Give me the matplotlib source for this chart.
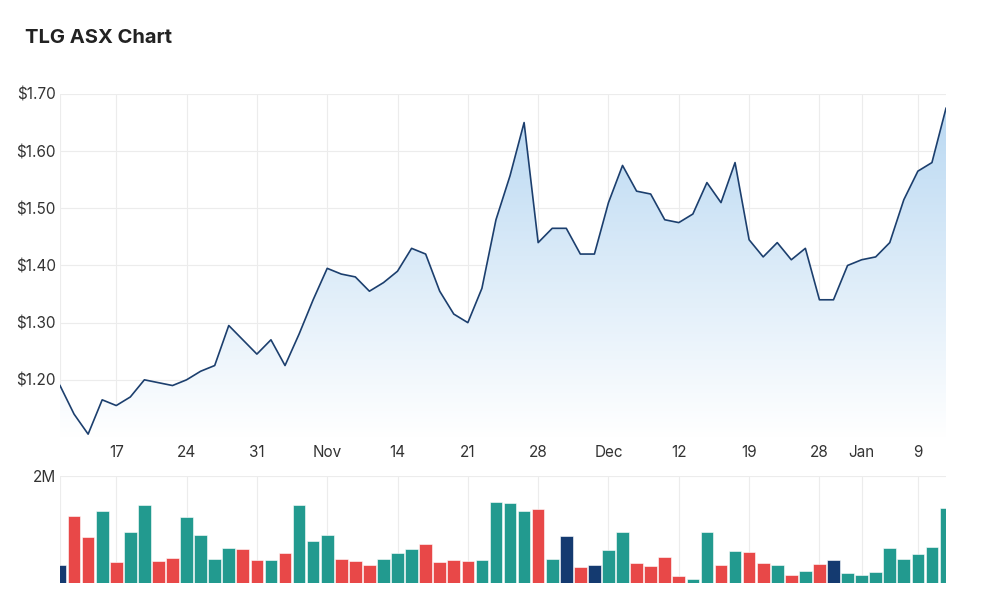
#!/usr/bin/env python3
"""
TLG ASX price chart with volume panel (trading-day ordinal x axis).

Output: out.png
"""

import matplotlib.pyplot as plt
import numpy as np
import pandas as pd
from matplotlib.ticker import FuncFormatter

plt.rcParams["font.family"] = ["Inter", "DejaVu Sans"]

TITLE = "TLG ASX Chart"
START, END = "2022-10-11", "2023-01-11"
HOLIDAYS = ["2022-12-26", "2022-12-27", "2023-01-02"]

# closing price ($), one per trading day
PRICE = [
    1.19, 1.14, 1.105, 1.165, 1.155, 1.17, 1.20, 1.195, 1.19, 1.20,
    1.215, 1.225, 1.295, 1.27, 1.245, 1.27, 1.225, 1.28, 1.34, 1.395,
    1.385, 1.38, 1.355, 1.37, 1.39, 1.43, 1.42, 1.355, 1.315, 1.30,
    1.36, 1.48, 1.557, 1.65, 1.44, 1.465, 1.465, 1.42, 1.42, 1.51,
    1.575, 1.53, 1.525, 1.48, 1.475, 1.49, 1.545, 1.51, 1.58, 1.445,
    1.415, 1.44, 1.41, 1.43, 1.34, 1.34, 1.40, 1.41, 1.415, 1.44,
    1.515, 1.565, 1.58, 1.675,
]
# daily volume (millions of shares)
VOLUME = [
    0.325, 1.25, 0.85, 1.35, 0.39, 0.95, 1.45, 0.41, 0.47, 1.23,
    0.89, 0.45, 0.65, 0.63, 0.43, 0.43, 0.55, 1.45, 0.79, 0.89,
    0.45, 0.41, 0.34, 0.45, 0.56, 0.625, 0.73, 0.39, 0.43, 0.41,
    0.43, 1.51, 1.49, 1.34, 1.39, 0.45, 0.87, 0.29, 0.325, 0.61,
    0.95, 0.37, 0.31, 0.49, 0.13, 0.07, 0.95, 0.325, 0.59, 0.57,
    0.37, 0.325, 0.145, 0.225, 0.345, 0.43, 0.19, 0.145, 0.205, 0.65,
    0.45, 0.53, 0.67, 1.41,
]
PRICE_TICKS = [1.20, 1.30, 1.40, 1.50, 1.60, 1.70]

UP, DOWN, FLAT = "#229a8f", "#e84848", "#143a70"
LINE = "#1c3f6e"
GRID = "#ececec"
TEXT = "#333333"


def week_ticks(dates):
    """First trading day of each week; month name when the month changes."""
    pos, labels = [], []
    prev_month = None
    week = dates.to_period("W")
    for i, d in enumerate(dates):
        if i == 0 or week[i] != week[i - 1]:
            lab = d.strftime("%b") if prev_month is not None and d.month != prev_month else str(d.day)
            prev_month = d.month
            pos.append(i)
            labels.append(lab)
    return pos, labels


def main():
    dates = pd.bdate_range(START, END)
    dates = dates[~dates.isin(pd.to_datetime(HOLIDAYS))]
    price = np.array(PRICE)
    vol = np.array(VOLUME) * 1e6
    x = np.arange(len(price))

    change = np.sign(np.diff(price, prepend=np.nan))
    colors = [UP if c > 0 else DOWN if c < 0 else FLAT for c in change]

    fig = plt.figure(figsize=(10, 6.11), dpi=100)
    ax = fig.add_axes([0.06, 0.2848, 0.886, 0.5614])
    axv = fig.add_axes([0.06, 0.0463, 0.886, 0.1746])

    ymin, ymax = 1.10, 1.70

    # gradient area under the line
    poly = ax.fill_between(x, price, ymin, color="none", lw=0)
    top = np.array([0.73, 0.85, 0.95])
    bot = np.array([1.0, 1.0, 1.0])
    t = np.linspace(0, 1, 256)[:, None]
    grad = top * (1 - t) + bot * t
    img = ax.imshow(grad[:, None, :], extent=[0, len(x) - 1, ymin, price.max()],
                    aspect="auto", origin="upper", zorder=1)
    img.set_clip_path(poly.get_paths()[0], transform=ax.transData)
    ax.plot(x, price, color=LINE, lw=1.2, zorder=3)

    pos, labels = week_ticks(dates)

    for a in (ax, axv):
        a.set_xlim(0, len(x) - 1)
        for p in pos:
            a.axvline(p, color=GRID, lw=0.8, zorder=0)
        for s in a.spines.values():
            s.set_visible(False)
        a.tick_params(length=0, labelsize=11, colors=TEXT)

    ax.set_ylim(ymin, ymax)
    ax.set_yticks(PRICE_TICKS)
    ax.yaxis.set_major_formatter(FuncFormatter(lambda v, _: f"${v:.2f}"))
    for v in PRICE_TICKS:
        ax.axhline(v, color=GRID, lw=0.8, zorder=0)
    ax.axhline(ymin, color="#dddddd", lw=1, zorder=0)
    ax.tick_params(axis="y", pad=3)
    ax.set_xticks(pos[1:])
    ax.set_xticklabels(labels[1:])
    ax.tick_params(axis="x", pad=6)

    axv.bar(x, vol, width=0.9, color=colors, edgecolor="white", linewidth=0.4, zorder=2)
    axv.set_ylim(0, 2e6)
    axv.set_yticks([2e6])
    axv.yaxis.set_major_formatter(FuncFormatter(lambda v, _: f"{v / 1e6:.0f}M"))
    axv.axhline(2e6, color=GRID, lw=0.8, zorder=0)
    axv.tick_params(axis="y", pad=3)
    axv.set_xticks([])

    fig.text(0.025, 0.937, TITLE, fontsize=14.5, fontweight="bold", color="#222222",
             ha="left", va="center")

    fig.savefig("out.png", dpi=100)


if __name__ == "__main__":
    main()
